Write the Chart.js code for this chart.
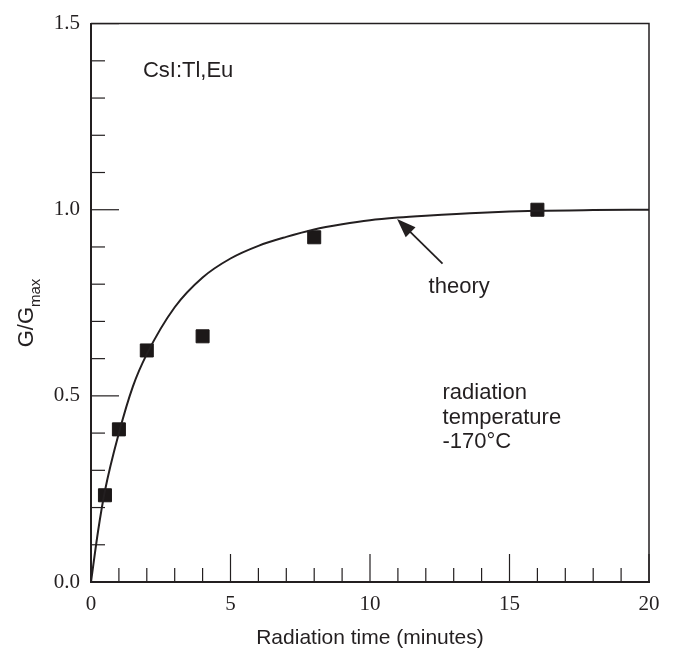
<!DOCTYPE html>
<html>
<head>
<meta charset="utf-8">
<script src="https://cdn.jsdelivr.net/npm/chart.js@4.4.1/dist/chart.umd.min.js"></script>
<style>
  body { margin: 0; background: #fff; }
  #wrap { width: 676px; height: 651px; position: relative; }
</style>
</head>
<body>
<div id="wrap"><canvas id="chart"></canvas></div>
<script>
// measured points (radiation time in minutes, G/Gmax)
const measTime = [0.5, 1, 2, 4, 8, 16];
const measValue = [0.233, 0.41, 0.622, 0.66, 0.926, 1.0];

// theory curve
const theoryTime = [0, 0.25, 0.5, 1, 1.5, 2, 3, 4, 5, 6, 7, 8, 9, 10, 11, 12, 14, 16, 18, 20];
const theoryValue = [0, 0.135, 0.245, 0.40, 0.525, 0.612, 0.738, 0.818, 0.869, 0.903, 0.927, 0.947, 0.961, 0.972, 0.979, 0.984, 0.992, 0.997, 0.999, 1.0];

const xMajor = [0, 5, 10, 15, 20];
const yMajor = [0, 0.5, 1.0, 1.5];

const ink = "#231f20";
const serif = "'Liberation Serif', 'DejaVu Serif', serif";
const sans = "'Liberation Sans', Arial, sans-serif";

const isMajor = (v, list) => list.some(m => Math.abs(m - v) < 1e-6);

// inward ticks, frame, labels and arrow
const decorations = {
    id: "decorations",
    afterDraw(c) {
        const ctx = c.ctx;
        const xs = c.scales.x, ys = c.scales.y;
        const a = c.chartArea;
        ctx.save();
        ctx.strokeStyle = ink;
        ctx.lineWidth = 1.5;

        // top and right frame
        ctx.beginPath();
        ctx.moveTo(a.left, a.top);
        ctx.lineTo(a.right, a.top);
        ctx.lineTo(a.right, a.bottom);
        ctx.stroke();

        ctx.lineWidth = 1.2;
        xs.ticks.forEach(t => {
            const px = xs.getPixelForValue(t.value);
            const len = isMajor(t.value, xMajor) ? 28 : 14;
            ctx.beginPath();
            ctx.moveTo(px, a.bottom);
            ctx.lineTo(px, a.bottom - len);
            ctx.stroke();
        });
        ys.ticks.forEach(t => {
            const py = ys.getPixelForValue(t.value);
            const len = isMajor(t.value, yMajor) ? 28 : 14;
            ctx.beginPath();
            ctx.moveTo(a.left, py);
            ctx.lineTo(a.left + len, py);
            ctx.stroke();
        });

        // text notes
        ctx.fillStyle = ink;
        ctx.font = "22px " + sans;
        ctx.textBaseline = "middle";
        ctx.textAlign = "left";
        const note = (txt, x, y) => ctx.fillText(txt, xs.getPixelForValue(x), ys.getPixelForValue(y));
        note("CsI:Tl,Eu", 1.86, 1.372);
        note("theory", 12.1, 0.793);
        note("radiation", 12.6, 0.509);
        note("temperature", 12.6, 0.442);
        note("-170\u00B0C", 12.6, 0.375);

        // arrow to the theory curve
        const tx = xs.getPixelForValue(10.97), ty = ys.getPixelForValue(0.975);
        const sx = xs.getPixelForValue(12.6), sy = ys.getPixelForValue(0.855);
        const ang = Math.atan2(ty - sy, tx - sx);
        ctx.lineWidth = 1.8;
        ctx.beginPath();
        ctx.moveTo(sx, sy);
        ctx.lineTo(tx - 12 * Math.cos(ang), ty - 12 * Math.sin(ang));
        ctx.stroke();
        ctx.beginPath();
        ctx.moveTo(tx, ty);
        ctx.lineTo(tx - 19 * Math.cos(ang) + 7 * Math.sin(ang), ty - 19 * Math.sin(ang) - 7 * Math.cos(ang));
        ctx.lineTo(tx - 19 * Math.cos(ang) - 7 * Math.sin(ang), ty - 19 * Math.sin(ang) + 7 * Math.cos(ang));
        ctx.closePath();
        ctx.fill();

        // y axis title G/Gmax
        ctx.translate(26, 313);
        ctx.rotate(-Math.PI / 2);
        ctx.textBaseline = "alphabetic";
        ctx.font = "22px " + sans;
        const main = "G/G";
        const w1 = ctx.measureText(main).width;
        ctx.font = "15px " + sans;
        const w2 = ctx.measureText("max").width;
        const x0 = -(w1 + w2) / 2;
        ctx.font = "22px " + sans;
        ctx.fillText(main, x0, 7);
        ctx.font = "15px " + sans;
        ctx.fillText("max", x0 + w1, 14);
        ctx.restore();
    }
};

new Chart(document.getElementById("chart"), {
    type: "scatter",
    data: {
        datasets: [
            {
                label: "theory",
                type: "line",
                data: theoryTime.map((t, i) => ({ x: t, y: theoryValue[i] })),
                borderColor: ink,
                borderWidth: 2,
                pointRadius: 0,
                cubicInterpolationMode: "monotone",
                fill: false
            },
            {
                label: "measured",
                data: measTime.map((t, i) => ({ x: t, y: measValue[i] })),
                pointStyle: "rect",
                pointRadius: 9.2,
                backgroundColor: "#1c1818",
                borderColor: "#1c1818",
                borderWidth: 1
            }
        ]
    },
    options: {
        responsive: true,
        maintainAspectRatio: false,
        animation: false,
        layout: { padding: { left: 0, right: 27, top: 23, bottom: 0 } },
        plugins: {
            legend: { display: false },
            tooltip: { enabled: false }
        },
        scales: {
            x: {
                type: "linear",
                min: 0,
                max: 20,
                afterFit: s => { s.height = 69; },
                grid: { display: false, drawTicks: false },
                border: { display: true, color: ink, width: 2 },
                ticks: {
                    stepSize: 1,
                    autoSkip: false,
                    maxRotation: 0,
                    padding: 10,
                    color: ink,
                    font: { family: serif, size: 21 },
                    callback: v => isMajor(v, xMajor) ? String(v) : ""
                },
                title: {
                    display: true,
                    text: "Radiation time (minutes)",
                    color: ink,
                    font: { family: sans, size: 21 },
                    padding: { top: 0, bottom: 0 }
                }
            },
            y: {
                min: 0,
                max: 1.5,
                afterFit: s => { s.width = 91; },
                grid: { display: false, drawTicks: false },
                border: { display: true, color: ink, width: 2 },
                ticks: {
                    stepSize: 0.1,
                    autoSkip: false,
                    padding: 11,
                    color: ink,
                    font: { family: serif, size: 21 },
                    callback: v => isMajor(v, yMajor) ? v.toFixed(1) : ""
                }
            }
        }
    },
    plugins: [decorations]
});
</script>
</body>
</html>
